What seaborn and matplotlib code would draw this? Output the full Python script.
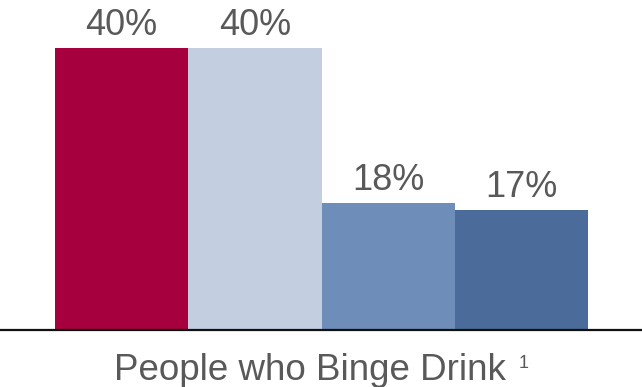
import matplotlib
matplotlib.use("Agg")
import matplotlib.pyplot as plt
import seaborn as sns
import pandas as pd

# Share of people who binge drink, by group
groups = ["Group A", "Group B", "Group C", "Group D"]
values = [40, 40, 18, 17]
value_labels = ["40%", "40%", "18%", "17%"]
bar_colors = ["#A6003F", "#C3CEE0", "#6E8DB8", "#4B6B9A"]
category_label = "People who Binge Drink"
footnote_mark = "1"

sns.set_theme(style="white")
plt.rcParams["font.family"] = ["Liberation Sans", "DejaVu Sans"]

W, H = 642, 387
fig = plt.figure(figsize=(W / 100, H / 100), dpi=100)

# axes spans the full width; bottom spine is the baseline
base_px = 57.5
ax = fig.add_axes([0, base_px / H, 1, 1 - base_px / H])

df = pd.DataFrame({"group": groups, "value": values})
sns.barplot(data=df, x="group", y="value", hue="group", palette=bar_colors,
            width=1.0, saturation=1, legend=False, ax=ax, linewidth=0)

bar_w = 133.25
left_px, right_px = 55, 588
ax.set_xlim(-0.5 - left_px / bar_w, len(groups) - 0.5 + (W - right_px) / bar_w)
px_per_unit = 281.5 / 40
ax.set_ylim(0, (H - base_px) / px_per_unit)

for i, (v, lab) in enumerate(zip(values, value_labels)):
    ax.annotate(lab, xy=(i, v), xytext=(0, 9.4), textcoords="offset points",
                ha="center", va="baseline", fontsize=26, color="#595959")

for s in ["top", "left", "right"]:
    ax.spines[s].set_visible(False)
ax.spines["bottom"].set_color("#111111")
ax.spines["bottom"].set_linewidth(1.6)
ax.set_xticks([])
ax.set_yticks([])
ax.set_xlabel("")
ax.set_ylabel("")

# category label with footnote marker
fig.text(309.5 / W, 7 / H, category_label, ha="center", va="baseline",
         fontsize=26.5, color="#595959")
fig.text(519 / W, 19 / H, footnote_mark, ha="left", va="baseline",
         fontsize=13, color="#595959")

fig.savefig("out.png", dpi=100)
